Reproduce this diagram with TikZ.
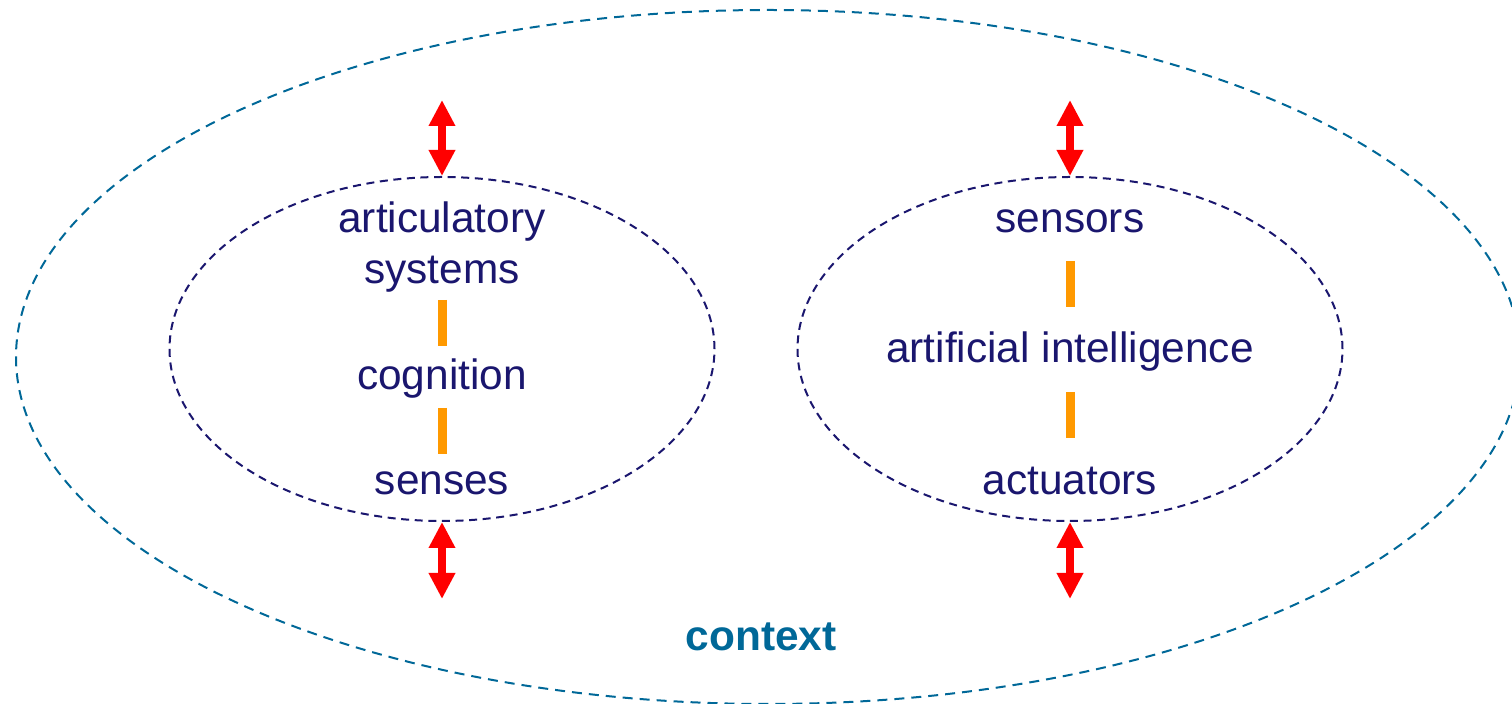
\documentclass[tikz,border=0pt]{standalone}
\usepackage{fontspec}
\setmainfont{Liberation Sans}
\usetikzlibrary{shapes.geometric,arrows.meta}
\definecolor{navy}{RGB}{26,22,110}
\definecolor{ctxblue}{RGB}{0,104,152}
\definecolor{barorange}{RGB}{255,153,0}
\definecolor{arrred}{RGB}{255,0,0}
\tikzset{
  lbl/.style={text=navy, font=\fontsize{21.2}{25}\selectfont, anchor=base, inner sep=0pt},
  inner/.style={ellipse, draw=navy, line width=1pt, dash pattern=on 4pt off 2.8pt, minimum width=272.5pt, minimum height=172pt, inner sep=0pt},
  outer/.style={ellipse, draw=ctxblue, line width=1pt, dash pattern=on 5pt off 3.5pt, minimum width=752pt, minimum height=347pt, inner sep=0pt},
  orangebar/.style={draw=barorange, line width=4.5pt},
  redarrow/.style={draw=arrred, line width=4pt, {Triangle[width=12.5pt,length=13pt]}-{Triangle[width=12.5pt,length=13pt]}, fill=arrred},
}
\begin{document}
\begin{tikzpicture}[x=0.5pt,y=-0.5pt]
\useasboundingbox (0,0) rectangle (1512,704);
\node[outer] (context) at (768,357) {};
\node[inner] (human) at (442,349) {};
\node[inner] (machine) at (1070,349) {};
% labels
\node[lbl] (artic) at (442,233) {articulatory};
\node[lbl] (systems) at (442,284) {systems};
\node[lbl] (cognition) at (442,390) {cognition};
\node[lbl] (senses) at (442,495) {senses};
\node[lbl] (sensors) at (1070,233) {sensors};
\node[lbl] (ai) at (1070,363) {artificial intelligence};
\node[lbl] (actuators) at (1070,495) {actuators};
\node[lbl, text=ctxblue, font=\fontsize{21.2}{25}\selectfont\bfseries] (ctxlabel) at (761,651) {context};
% orange bars
\coordinate (b1a) at (442,300); \coordinate (b1b) at (442,346);
\coordinate (b2a) at (442,408); \coordinate (b2b) at (442,454);
\coordinate (b3a) at (1070,261); \coordinate (b3b) at (1070,307);
\coordinate (b4a) at (1070,392); \coordinate (b4b) at (1070,438);
\draw[orangebar] (b1a) -- (b1b);
\draw[orangebar] (b2a) -- (b2b);
\draw[orangebar] (b3a) -- (b3b);
\draw[orangebar] (b4a) -- (b4b);
% red arrows
\coordinate (ht) at (442,100);
\coordinate (hb) at (442,599);
\coordinate (mt) at (1070,100);
\coordinate (mb) at (1070,599);
\draw[redarrow] (ht) -- (human.north);
\draw[redarrow] (human.south) -- (hb);
\draw[redarrow] (mt) -- (machine.north);
\draw[redarrow] (machine.south) -- (mb);
\end{tikzpicture}
\end{document}
